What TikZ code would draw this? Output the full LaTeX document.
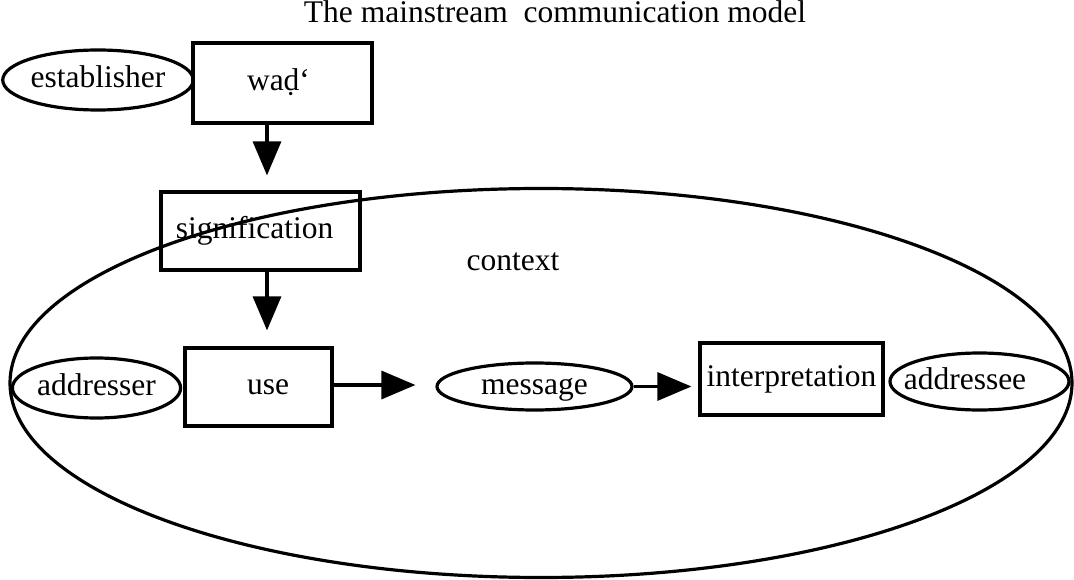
\documentclass[tikz,border=0pt]{standalone}
\usepackage{fontspec}
\setmainfont{Liberation Serif}
\usetikzlibrary{arrows.meta,shapes.geometric}
\begin{document}
\begin{tikzpicture}[x=1pt,y=-1pt,
  every node/.style={font=\fontsize{31.5}{36}\selectfont, text height=22pt, text depth=7pt, inner sep=0pt},
  box/.style={draw, line width=3.2pt, rectangle},
  oval/.style={draw, line width=3.2pt, ellipse},
  arr/.style={line width=3.2pt, -{Triangle[length=34pt,width=28pt]}}]
  \useasboundingbox (0,0) rectangle (1074,580);

  % heading
  \node (title) at (555,15.5) {The mainstream\ \ communication model};

  % surrounding context
  \node[oval, minimum width=1062pt, minimum height=389pt] (ctx) at (541,383) {};
  \node (ctxlabel) at (513,262.5) {context};

  % upper part: establishing the sign
  \node[oval, minimum width=182pt, minimum height=60pt] (est) at (98,80) {establisher};
  \node[box, minimum width=179pt, minimum height=80pt] (wad) at (282.5,83) {\hspace*{-8pt}waḍ‘};
  \node[box, minimum width=199pt, minimum height=78pt] (sig) at (260.5,231) {\hspace*{-12pt}signification};

  % lower part: the act of communication
  \node[oval, minimum width=163pt, minimum height=60pt] (adr) at (96.5,388) {addresser};
  \node[box, minimum width=147pt, minimum height=78pt] (use) at (258.5,387) {\hspace*{19pt}use};
  \node[oval, minimum width=195pt, minimum height=47pt] (msg) at (534.5,386.5) {message};
  \node[box, minimum width=183pt, minimum height=72pt] (int) at (791.5,379) {interpretation};
  \node[oval, minimum width=179pt, minimum height=57pt] (ade) at (979.5,381.5) {\hspace*{-29pt}addressee};

  % connectors
  \coordinate (col) at (267,0);
  \draw[arr, shorten >=15pt] (wad.south -| col) -- (sig.north -| col);
  \draw[arr, shorten >=16pt] (sig.south -| col) -- (use.north -| col);
  \coordinate (row1) at (0,385);
  \draw[arr, shorten >=20pt] (use.east |- row1) -- (msg.west |- row1);
  \draw[arr, shorten >=7pt] (msg.east) -- (int.west |- msg.east);
\end{tikzpicture}
\end{document}
